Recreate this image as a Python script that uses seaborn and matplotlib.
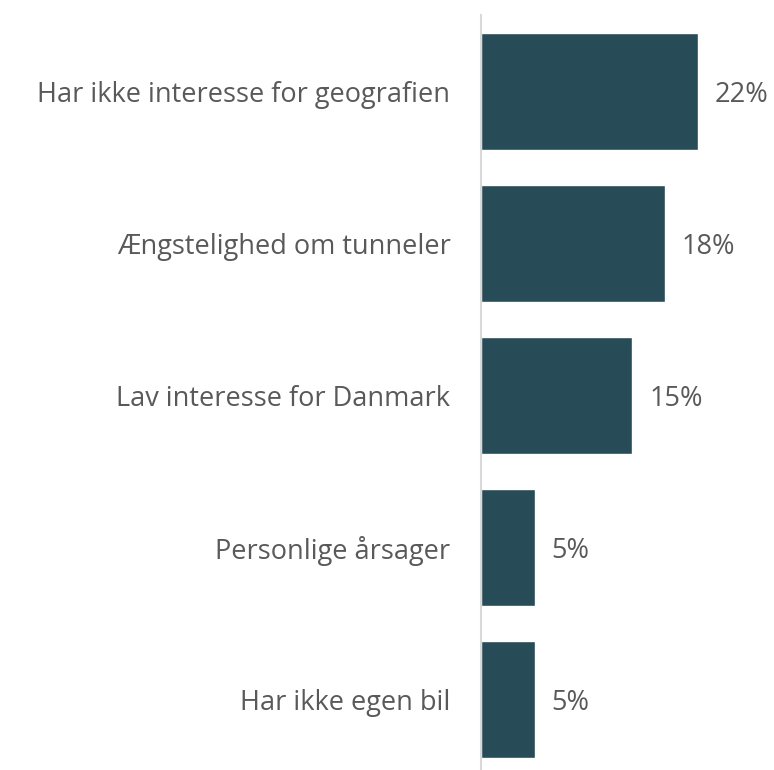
import matplotlib
matplotlib.use("Agg")
import matplotlib.pyplot as plt
import pandas as pd
import seaborn as sns

sns.set_theme(style="white")
plt.rcParams['font.family'] = ['Open Sans', 'DejaVu Sans']

reasons = [
    "Har ikke interesse for geografien",
    "Ængstelighed om tunneler",
    "Lav interesse for Danmark",
    "Personlige årsager",
    "Har ikke egen bil",
]
shares = [21.5, 18.2, 15.0, 5.3, 5.3]
share_labels = ["22%", "18%", "15%", "5%", "5%"]

df = pd.DataFrame({"reason": reasons, "share": shares})

fig = plt.figure(figsize=(7.74, 7.7), dpi=100)
ax = fig.add_axes([0.6215, -0.0065, 0.378, 0.9865])

sns.barplot(data=df, x="share", y="reason", color="#274B57", saturation=1,
            width=0.77, ax=ax)

text_col = "#595959"
for i, (v, lab) in enumerate(zip(shares, share_labels)):
    ax.text(v + 1.7, i, lab, va="center_baseline", ha="left", fontsize=19.5, color=text_col)

ax.set_xlim(0, 29.0)
ax.set_ylim(4.5, -0.5)
ax.set_xlabel("")
ax.set_ylabel("")
ax.set_xticks([])
ax.tick_params(axis="y", length=0, pad=22, labelsize=19.5, labelcolor=text_col)
for s in ["top", "right", "bottom"]:
    ax.spines[s].set_visible(False)
ax.spines["left"].set_color("#D9D9D9")
ax.spines["left"].set_linewidth(1.5)

fig.savefig("out.png", dpi=100)
